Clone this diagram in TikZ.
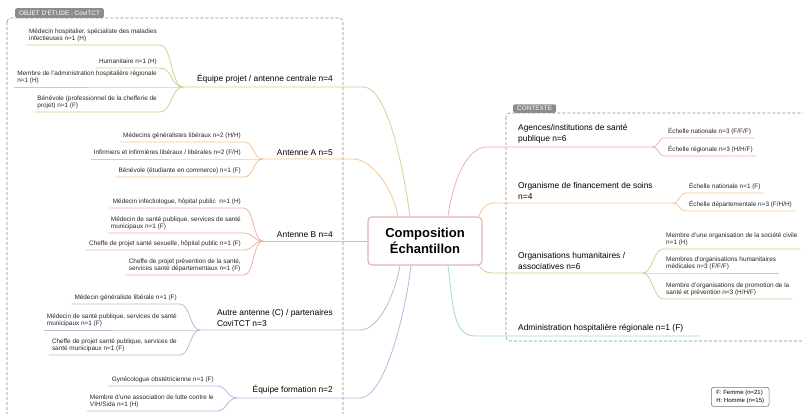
\documentclass[tikz,border=0pt]{standalone}
\usepackage{fontspec}
\setmainfont{Liberation Sans}
\definecolor{cGreen}{HTML}{C5D694}
\definecolor{cOrange}{HTML}{F6C491}
\definecolor{cSalmon}{HTML}{EDB1A6}
\definecolor{cLilac}{HTML}{C9B3D1}
\definecolor{cBlue}{HTML}{A7BFE3}
\definecolor{cTeal}{HTML}{9ED9CB}
\definecolor{cPink}{HTML}{E3B5B8}
\begin{document}
\begin{tikzpicture}[x=1pt,y=-1pt,
    leaf/.style={font=\fontsize{6.4}{7.6}\selectfont, text=black!85, align=left, inner xsep=3pt, inner ysep=2.5pt},
    lleaf/.style={leaf, anchor=south east},
    rleaf/.style={leaf, anchor=south west},
    head/.style={font=\fontsize{8.4}{11}\selectfont, text=black, align=left, inner xsep=3pt, inner ysep=3.5pt},
    link/.style={line width=0.8pt},
    frame/.style={draw=black!45, dash pattern=on 3pt off 2pt, rounded corners=4pt, line width=0.6pt},
    tab/.style={fill=black!45, text=white, font=\fontsize{6.4}{7}\selectfont, rounded corners=1.5pt, inner xsep=4pt, inner ysep=2pt, anchor=south west}]
    \useasboundingbox (0,0) rectangle (803,414);
    \clip (0,0) rectangle (803,414);

    \draw[frame] (7,18) rectangle (343,430);
    \draw[frame] (506,113) rectangle (815,341);
    \node[tab] (t1) at (15,18) {OBJET D'ÉTUDE : CoviTCT};
    \node[tab] (t2) at (513,113) {CONTEXTE};

    \node[draw=cPink, line width=1.2pt, rounded corners=4pt, fill=white, minimum width=114pt, minimum height=48pt, font=\fontsize{13}{16}\selectfont\bfseries, align=center] (cc) at (425,241) {Composition\\Échantillon};

    \coordinate (fE) at (183,87);
    \coordinate (bE) at (363,87);
    \node[head, anchor=south east] (hE) at (336,87) {Équipe projet / antenne centrale n=4};
    \node[lleaf] (e1) at (160,45) {Médecin hospitalier, spécialiste des maladies\\infectieuses n=1 (H)};
    \node[lleaf] (e2) at (160,68) {Humanitaire n=1 (H)};
    \node[lleaf] (e3) at (160,87) {Membre de l'administration hospitalière régionale\\n=1 (H)};
    \node[lleaf] (e4) at (160,112) {Bénévole (professionnel de la chefferie de\\projet) n=1 (F)};
    \draw[link, cGreen] (fE) -- (bE) .. controls +(25,0) and +(-6,-45) .. ([xshift=-15pt]cc.north);
    \foreach \n in {e1,e2,e3,e4}
        \draw[link, cGreen] (fE) .. controls +(-12,0) and +(12,0) .. (\n.south east) -- (\n.south west);

    \coordinate (fA) at (263,159);
    \coordinate (bA) at (353,159);
    \node[head, anchor=south east] (hA) at (336,159) {Antenne A n=5};
    \node[lleaf] (a1) at (244,142) {Médecins généralistes libéraux n=2 (H/H)};
    \node[lleaf] (a2) at (244,159) {Infirmiers et infirmières libéraux / libérales n=2 (F/H)};
    \node[lleaf] (a3) at (244,177) {Bénévole (étudiante en commerce) n=1 (F)};
    \draw[link, cOrange] (fA) -- (bA) .. controls +(20,0) and +(-4,-25) .. ([xshift=-27pt]cc.north);
    \foreach \n in {a1,a2,a3}
        \draw[link, cOrange] (fA) .. controls +(-10,0) and +(10,0) .. (\n.south east) -- (\n.south west);

    \coordinate (fB) at (263,241);
    \node[head, anchor=south east] (hB) at (336,241) {Antenne B n=4};
    \node[lleaf] (b1) at (244,208) {Médecin infectiologue, hôpital public\ \ n=1 (H)};
    \node[lleaf] (b2) at (244,233) {Médecin de santé publique, services de santé\\municipaux n=1 (F)};
    \node[lleaf] (b3) at (244,250) {Cheffe de projet santé sexuelle, hôpital public n=1 (F)};
    \node[lleaf] (b4) at (244,275) {Cheffe de projet prévention de la santé,\\services santé départementaux n=1 (F)};
    \draw[link, cSalmon] (fB) -- (cc.west);
    \foreach \n in {b1,b2,b3,b4}
        \draw[link, cSalmon] (fB) .. controls +(-10,0) and +(10,0) .. (\n.south east) -- (\n.south west);

    \coordinate (fC) at (200,330);
    \coordinate (bC) at (360,330);
    \node[head, anchor=south east] (hC) at (336,330) {Autre antenne (C) / partenaires\\CoviTCT n=3};
    \node[lleaf] (c1) at (180,304) {Médecin généraliste libérale n=1 (F)};
    \node[lleaf] (c2) at (180,330) {Médecin de santé publique, services de santé\\municipaux n=1 (F)};
    \node[lleaf] (c3) at (180,355) {Cheffe de projet santé publique, services de\\santé municipaux n=1 (F)};
    \draw[link, cLilac] (fC) -- (bC) .. controls +(20,0) and +(-4,25) .. ([xshift=-25pt]cc.south);
    \foreach \n in {c1,c2,c3}
        \draw[link, cLilac] (fC) .. controls +(-10,0) and +(10,0) .. (\n.south east) -- (\n.south west);

    \coordinate (fF) at (237,398);
    \coordinate (bF) at (360,398);
    \node[head, anchor=south east] (hF) at (336,398) {Équipe formation n=2};
    \node[lleaf] (f1) at (217,386) {Gynécologue obstétricienne n=1 (F)};
    \node[lleaf] (f2) at (217,411) {Membre d'une association de lutte contre le\\VIH/Sida n=1 (H)};
    \draw[link, cBlue] (fF) -- (bF) .. controls +(25,0) and +(-5,45) .. ([xshift=-14pt]cc.south);
    \foreach \n in {f1,f2}
        \draw[link, cBlue] (fF) .. controls +(-10,0) and +(10,0) .. (\n.south east) -- (\n.south west);

    \coordinate (bR1) at (487,147);
    \coordinate (fR1) at (652,147);
    \node[head, anchor=south west] (r1h) at (515,147) {Agences/institutions de santé\\publique n=6};
    \node[rleaf] (r11) at (665,138) {Échelle nationale n=3 (F/F/F)};
    \node[rleaf] (r12) at (665,156) {Échelle régionale n=3 (H/H/F)};
    \draw[link, cSalmon] ([xshift=23pt]cc.north) .. controls +(4,-30) and +(-22,0) .. (bR1) -- (fR1);
    \foreach \n in {r11,r12}
        \draw[link, cSalmon] (fR1) .. controls +(7,0) and +(-7,0) .. (\n.south west) -- (\n.south east);

    \coordinate (bR2) at (497,203);
    \coordinate (fR2) at (673,203);
    \node[head, anchor=south west] (r2h) at (515,203) {Organisme de financement de soins\\n=4};
    \node[rleaf] (r21) at (686,193) {Échelle nationale n=1 (F)};
    \node[rleaf] (r22) at (686,211) {Échelle départementale n=3 (F/H/H)};
    \draw[link, cOrange] ([xshift=-4pt]cc.north east) .. controls +(6,-12) and +(-10,0) .. (bR2) -- (fR2);
    \foreach \n in {r21,r22}
        \draw[link, cOrange] (fR2) .. controls +(7,0) and +(-7,0) .. (\n.south west) -- (\n.south east);

    \coordinate (bR3) at (495,273);
    \coordinate (fR3) at (643,273);
    \node[head, anchor=south west] (r3h) at (515,273) {Organisations humanitaires /\\associatives n=6};
    \node[rleaf] (r31) at (663,249) {Membre d'une organisation de la société civile\\n=1 (H)};
    \node[rleaf] (r32) at (663,273) {Membres d'organisations humanitaires\\médicales n=3 (F/F/F)};
    \node[rleaf] (r33) at (663,299) {Membre d'organisations de promotion de la\\santé et prévention n=3 (H/H/F)};
    \draw[link, cGreen] ([xshift=-4pt]cc.south east) .. controls +(6,6) and +(-10,0) .. (bR3) -- (fR3);
    \foreach \n in {r31,r32,r33}
        \draw[link, cGreen] (fR3) .. controls +(9,0) and +(-9,0) .. (\n.south west) -- (\n.south east);

    \coordinate (bR4) at (475,336);
    \coordinate (eR4) at (700,336);
    \node[head, anchor=south west] (r4h) at (515,336) {Administration hospitalière régionale n=1 (F)};
    \draw[link, cTeal] ([xshift=23pt]cc.south) .. controls +(5,40) and +(-22,0) .. (bR4) -- (eR4);

    \node[draw=black!55, rounded corners=2.5pt, line width=0.6pt, font=\fontsize{6}{7.5}\selectfont, align=left, inner xsep=5pt, inner ysep=3pt, anchor=north west] (key) at (711,387) {F: Femme (n=21)\\H: Homme (n=15)};
\end{tikzpicture}
\end{document}
